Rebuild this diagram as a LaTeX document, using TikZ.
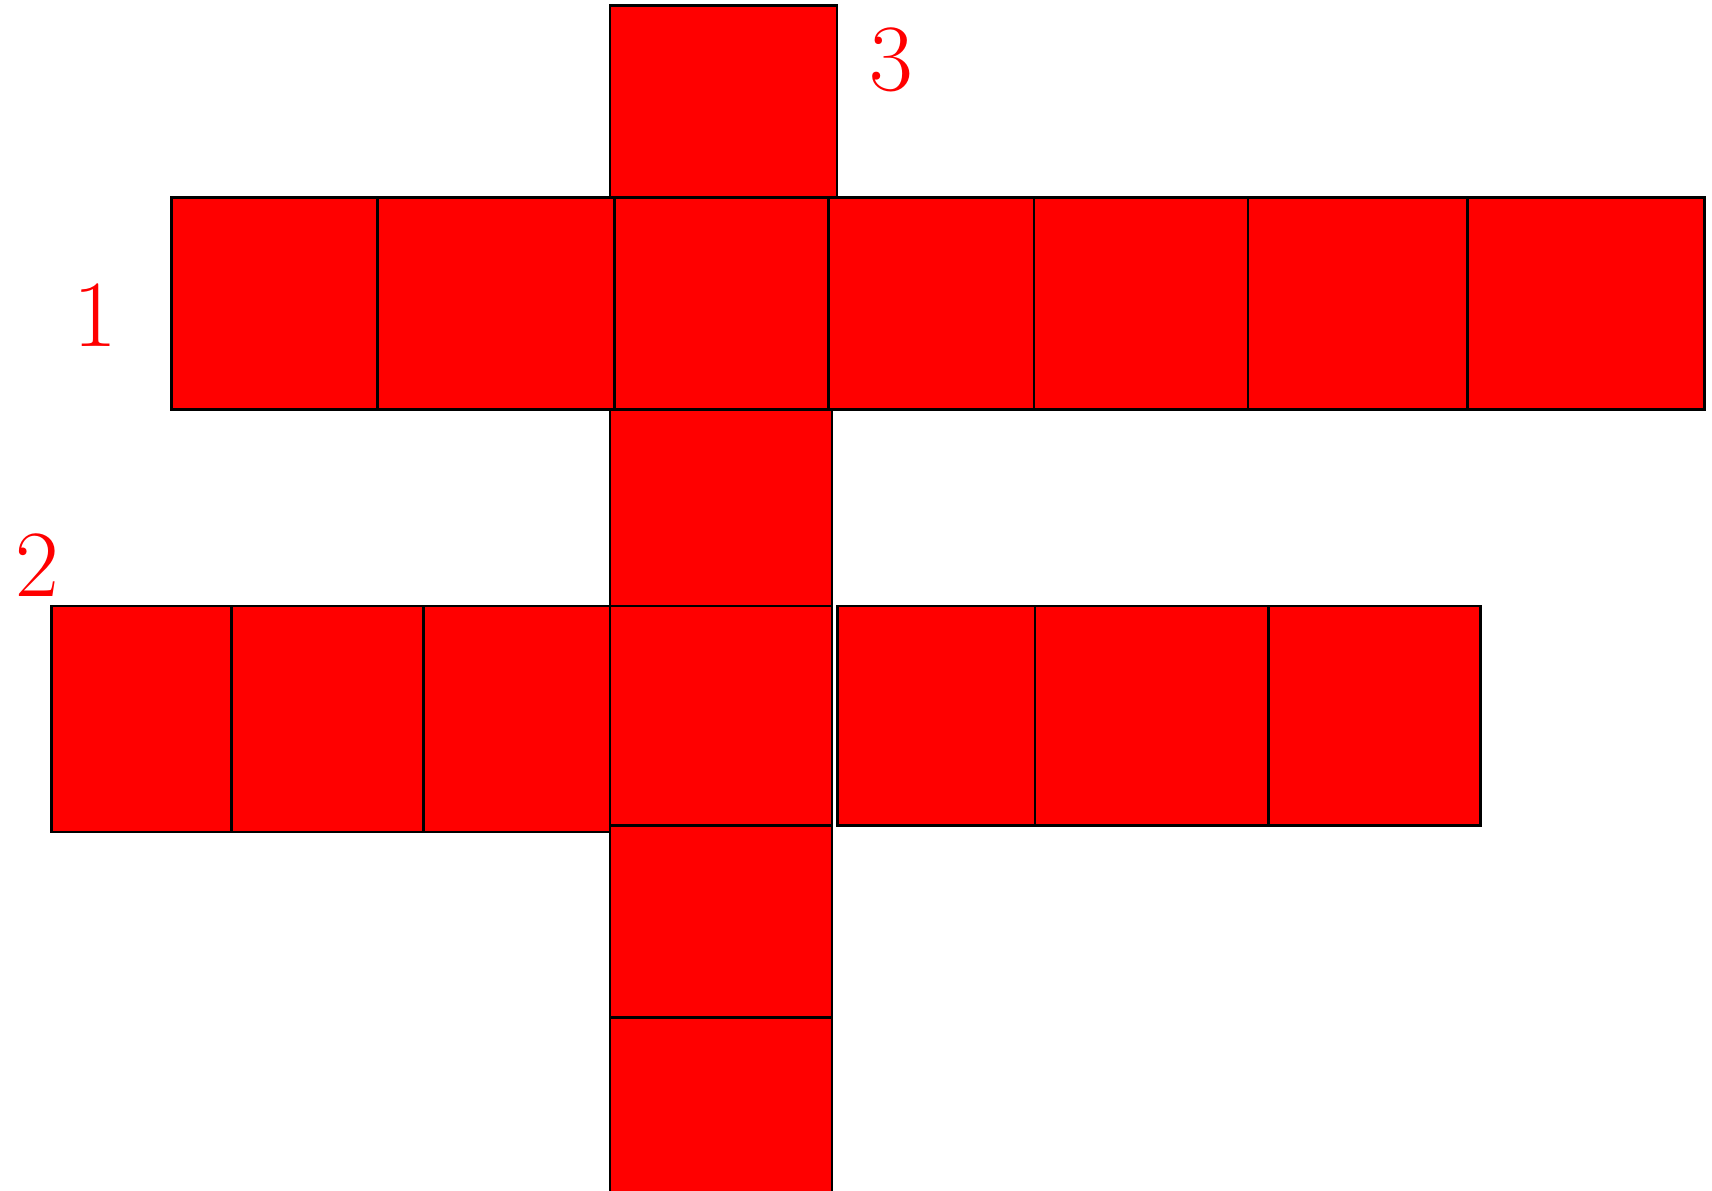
\documentclass[tikz,border=0pt]{standalone}
\usepackage{fontspec}
\begin{document}
\begin{tikzpicture}[
  x=0.01cm, y=-0.01cm,
  cell/.style={draw=black, fill=red, line width=0.8pt},
  num/.style={text=red, inner sep=0pt, font=\fontsize{27}{30}\selectfont}
]
\useasboundingbox (0,0) rectangle (1712,1190);
\clip (0,0) rectangle (1712,1190);

\draw[cell] (610,5.5) rectangle (837,197.6);
\foreach \xa/\xb in {171.4/377.8, 377.8/614.7, 614.7/828.7, 828.7/1034, 1034/1248, 1248/1467.4, 1467.4/1704.3}
  \draw[cell] (\xa,197.6) rectangle (\xb,409.4);

\foreach \ya/\yb in {409.4/606, 606/825.4, 825.4/1017.6, 1017.6/1196}
  \draw[cell] (610,\ya) rectangle (832,\yb);

\foreach \xa/\xb in {51.3/231.5, 231.5/423.6, 423.6/610}
  \draw[cell] (\xa,606) rectangle (\xb,832);
\foreach \xa/\xb in {837.4/1035, 1035/1268.7, 1268.7/1480.5}
  \draw[cell] (\xa,606) rectangle (\xb,825.4);

\node[num] (one)   at (95,315) {1};
\node[num] (two)   at (37,565) {2};
\node[num] (three) at (891,60) {3};
\end{tikzpicture}
\end{document}
